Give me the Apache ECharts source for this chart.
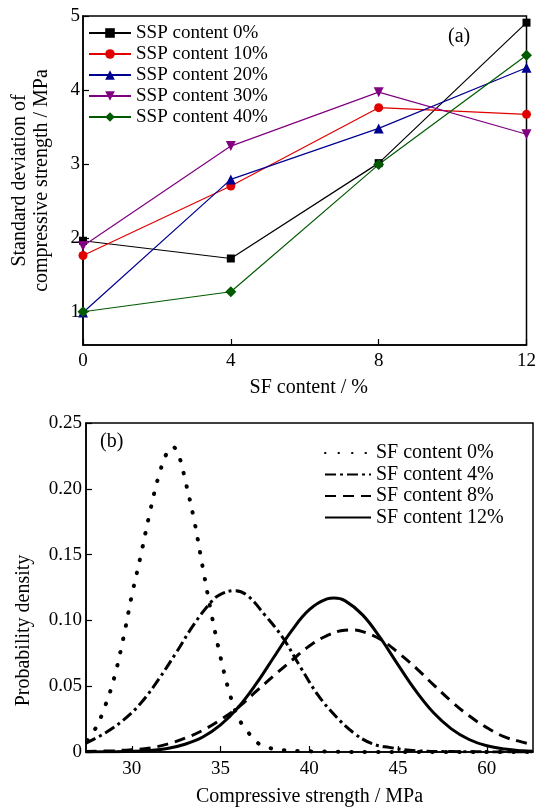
<!DOCTYPE html>
<html>
<head>
<meta charset="utf-8">
<script src="https://cdn.jsdelivr.net/npm/echarts@6/dist/echarts.min.js"></script>
<style>
  html, body { margin: 0; padding: 0; background: #fff; }
  #chart { width: 539px; height: 810px; }
</style>
</head>
<body>
<div id="chart"></div>
<script>
// panel (a): std deviation vs SF content
const sfContent = [0, 4, 8, 12];
const ssp0 = [1.96, 1.72, 3.01, 4.91];
const ssp10 = [1.76, 2.70, 3.76, 3.67];
const ssp20 = [0.99, 2.79, 3.48, 4.30];
const ssp30 = [1.89, 3.24, 3.97, 3.40];
const ssp40 = [1.00, 1.27, 2.99, 4.47];
const topYTicks = [1, 2, 3, 4, 5];

// panel (b): probability density curves, [strength, density]
const sf0 = [[27.5, 0.009], [28.0, 0.019], [28.5, 0.035], [29.0, 0.056], [29.5, 0.085], [30.0, 0.119],
  [30.5, 0.149], [31.0, 0.181], [31.5, 0.209], [32.0, 0.228], [32.3, 0.232], [32.7, 0.223], [33.0, 0.207],
  [33.5, 0.177], [34.0, 0.140], [34.5, 0.104], [35.0, 0.072], [35.5, 0.045], [36.0, 0.026], [36.5, 0.016],
  [37.0, 0.008], [37.5, 0.004], [38.5, 0.0015], [40.0, 0.0005], [45.0, 0], [52.6, 0]];
const sf4 = [[27.4, 0.0066], [28.5, 0.0145], [29.5, 0.024], [30.5, 0.037], [31.5, 0.055], [32.5, 0.0755],
  [33.5, 0.097], [34.5, 0.1145], [35.0, 0.1198], [35.8, 0.1226], [36.5, 0.119], [37.5, 0.104], [38.5, 0.087],
  [39.5, 0.0645], [40.5, 0.043], [41.5, 0.027], [42.5, 0.0145], [43.5, 0.0065], [44.5, 0.0035], [46.0, 0.001],
  [48.0, 0.0003], [52.6, 0]];
const sf8 = [[27.4, 0.0003], [29.0, 0.001], [30.0, 0.0018], [31.0, 0.003], [32.0, 0.006], [33.0, 0.0105],
  [34.0, 0.0165], [35.0, 0.0245], [36.0, 0.034], [37.0, 0.046], [38.0, 0.058], [39.0, 0.0695], [40.0, 0.0805],
  [41.0, 0.0885], [42.0, 0.0925], [42.5, 0.0927], [43.0, 0.0915], [44.0, 0.0857], [45.0, 0.0755], [46.0, 0.064],
  [47.0, 0.051], [48.0, 0.0385], [49.0, 0.0275], [50.0, 0.0185], [51.0, 0.0115], [52.0, 0.0075], [52.6, 0.0055]];
const sf12 = [[27.4, 0], [29.0, 0.0002], [30.0, 0.0005], [31.0, 0.0012], [32.0, 0.0027], [33.0, 0.0059],
  [34.0, 0.0114], [35.0, 0.0206], [36.0, 0.034], [37.0, 0.0517], [38.0, 0.072], [39.0, 0.0921], [40.0, 0.1081],
  [41.0, 0.1163], [41.4, 0.117], [42.0, 0.115], [43.0, 0.1042], [44.0, 0.0867], [45.0, 0.0662], [46.0, 0.0464],
  [47.0, 0.0298], [48.0, 0.0176], [49.0, 0.0095], [50.0, 0.0047], [51.0, 0.0022], [52.0, 0.0009], [52.6, 0.0006]];
const bottomXTicks = [30, 35, 40, 45, 50];
const bottomXLabels = ['30', '35', '40', '45', '60'];

const FONT = "'Liberation Serif', 'Times New Roman', serif";
const axisLine = { show: true, lineStyle: { color: '#000', width: 1.5 } };
const tickStyle = { inside: true, length: 6, lineStyle: { color: '#000', width: 1.2 } };
const labelStyle = { color: '#000', fontFamily: FONT, fontSize: 19 };
const nameStyle = { color: '#000', fontFamily: FONT, fontSize: 20 };

function pairs(ys) {
  return sfContent.map((x, i) => [x, ys[i]]);
}

function sspSeries(name, ys, color, symbol, size, rotate) {
  return {
    name: name,
    type: 'line',
    xAxisIndex: 0,
    yAxisIndex: 0,
    data: pairs(ys),
    symbol: symbol,
    symbolSize: size,
    symbolRotate: rotate || 0,
    itemStyle: { color: color },
    lineStyle: { color: color, width: 1.2 },
    emphasis: { disabled: true }
  };
}

function pdfSeries(name, data, dash, width, cap) {
  return {
    name: name,
    type: 'line',
    xAxisIndex: 1,
    yAxisIndex: 1,
    data: data,
    smooth: 0.4,
    symbol: 'none',
    showSymbol: false,
    itemStyle: { color: '#000' },
    lineStyle: { color: '#000', width: width, type: dash, cap: cap || 'butt' },
    emphasis: { disabled: true }
  };
}

const chart = echarts.init(document.getElementById('chart'), null, { renderer: 'canvas' });

const option = {
  animation: false,
  backgroundColor: '#fff',
  grid: [
    { left: 83, top: 16, width: 447, height: 329, show: true, borderColor: '#000', borderWidth: 1.5 },
    { left: 86, top: 423, width: 447, height: 329, show: true, borderColor: '#000', borderWidth: 1.5 }
  ],
  legend: [
    {
      data: ['SSP content 0%', 'SSP content 10%', 'SSP content 20%', 'SSP content 30%', 'SSP content 40%'],
      orient: 'vertical',
      left: 88,
      top: 23,
      itemWidth: 42,
      itemHeight: 12,
      itemGap: 1,
      textStyle: { color: '#000', fontFamily: FONT, fontSize: 19, lineHeight: 20 },
      padding: 0
    },
    {
      data: ['SF content 0%', 'SF content 4%', 'SF content 8%', 'SF content 12%'],
      orient: 'vertical',
      left: 324,
      top: 443,
      itemWidth: 46,
      itemHeight: 10,
      itemGap: 1.5,
      itemStyle: { opacity: 0 },
      textStyle: { color: '#000', fontFamily: FONT, fontSize: 20, lineHeight: 20 },
      padding: 0
    }
  ],
  xAxis: [
    {
      gridIndex: 0,
      type: 'value',
      min: 0,
      max: 12,
      interval: 4,
      axisLine: axisLine,
      axisTick: tickStyle,
      axisLabel: Object.assign({ margin: 7 }, labelStyle),
      splitLine: { show: false },
      name: 'SF content / %',
      nameLocation: 'middle',
      nameGap: 33,
      nameTextStyle: Object.assign({ padding: [0, 0, 0, 8] }, nameStyle)
    },
    {
      gridIndex: 1,
      type: 'value',
      min: 27.42,
      max: 52.6,
      axisLine: axisLine,
      axisTick: Object.assign({ customValues: bottomXTicks }, tickStyle),
      axisLabel: Object.assign({
        margin: 8,
        customValues: bottomXTicks,
        formatter: (v) => bottomXLabels[bottomXTicks.indexOf(v)]
      }, labelStyle),
      splitLine: { show: false },
      name: 'Compressive strength / MPa',
      nameLocation: 'middle',
      nameGap: 35,
      nameTextStyle: nameStyle
    }
  ],
  yAxis: [
    {
      gridIndex: 0,
      type: 'value',
      min: 0.55,
      max: 5,
      axisLine: axisLine,
      axisTick: Object.assign({ customValues: topYTicks }, tickStyle),
      axisLabel: Object.assign({ margin: 3, customValues: topYTicks }, labelStyle),
      splitLine: { show: false },
      name: 'Standard deviation of\ncompressive strength / MPa',
      nameLocation: 'middle',
      nameRotate: 90,
      nameGap: 30,
      nameTextStyle: Object.assign({ lineHeight: 22 }, nameStyle)
    },
    {
      gridIndex: 1,
      type: 'value',
      min: 0,
      max: 0.25,
      interval: 0.05,
      axisLine: axisLine,
      axisTick: tickStyle,
      axisLabel: Object.assign({
        margin: 4,
        formatter: (v) => (v === 0 ? '0' : v.toFixed(2))
      }, labelStyle),
      splitLine: { show: false },
      name: 'Probability density',
      nameLocation: 'middle',
      nameRotate: 90,
      nameGap: 52,
      nameTextStyle: Object.assign({ padding: [0, 86, 0, 0] }, nameStyle)
    }
  ],
  graphic: [
    { type: 'text', left: 448, top: 27, style: { text: '(a)', fill: '#000', font: '20px ' + FONT } },
    { type: 'text', left: 100, top: 432, style: { text: '(b)', fill: '#000', font: '20px ' + FONT } }
  ],
  series: [
    sspSeries('SSP content 0%', ssp0, '#000000', 'rect', 8),
    sspSeries('SSP content 10%', ssp10, '#e00000', 'circle', 9),
    sspSeries('SSP content 20%', ssp20, '#000090', 'triangle', 10),
    sspSeries('SSP content 30%', ssp30, '#800080', 'triangle', 10, 180),
    sspSeries('SSP content 40%', ssp40, '#005a00', 'diamond', 11),
    pdfSeries('SF content 0%', sf0, [0.5, 13], 4, 'round'),
    pdfSeries('SF content 4%', sf4, [11, 4, 3, 4], 3),
    pdfSeries('SF content 8%', sf8, [11, 7], 3),
    pdfSeries('SF content 12%', sf12, 'solid', 3)
  ]
};

chart.setOption(option);
</script>
</body>
</html>
